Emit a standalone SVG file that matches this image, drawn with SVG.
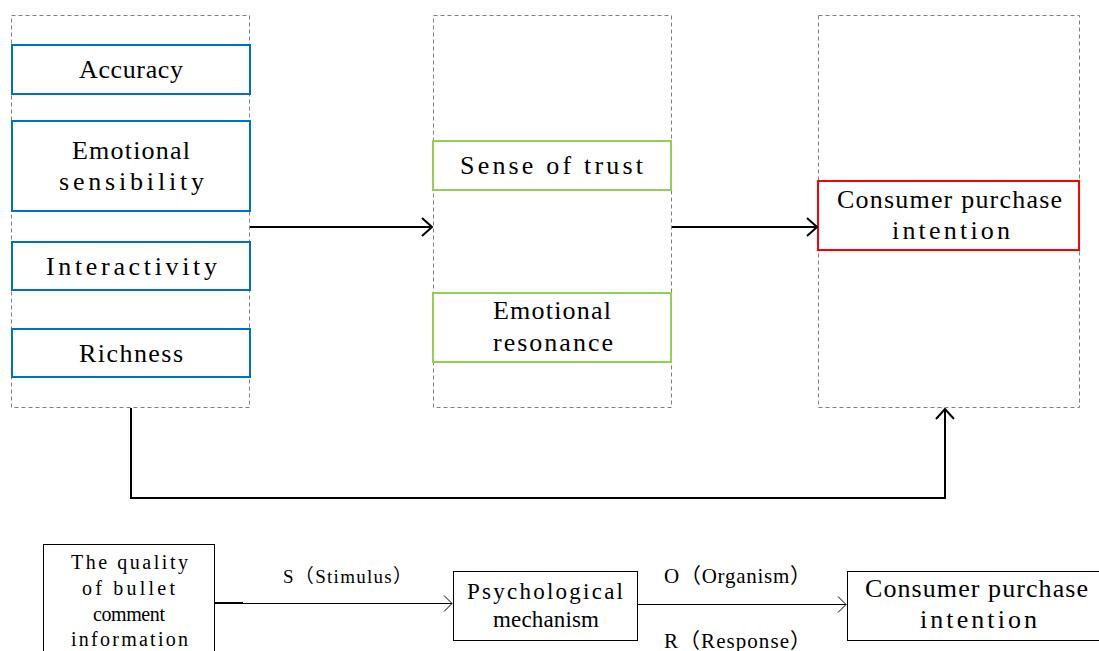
<svg xmlns="http://www.w3.org/2000/svg" width="1099" height="651" viewBox="0 0 1099 651">
<defs>
<marker id="ah" viewBox="0 0 12 20" refX="11" refY="10" markerWidth="12" markerHeight="20" markerUnits="userSpaceOnUse" orient="auto">
<path d="M1,1 L11,10 L1,19" fill="none" stroke="#000" stroke-width="2"/>
</marker>
<marker id="ahs" viewBox="0 0 10 18" refX="9" refY="9" markerWidth="10" markerHeight="18" markerUnits="userSpaceOnUse" orient="auto">
<path d="M1,1 L9,9 L1,17" fill="none" stroke="#000" stroke-width="1"/>
</marker>
<style>
.grp{fill:none;stroke:#808080;stroke-width:1;stroke-dasharray:4 3}
.blue{fill:#fff;stroke:#0070C0;stroke-width:2}
.green{fill:#fff;stroke:#92D050;stroke-width:2}
.red{fill:#fff;stroke:#FF0000;stroke-width:2}
.plain{fill:#fff;stroke:#000;stroke-width:1}
.t{font-family:"Liberation Serif","Noto Sans CJK SC",serif;fill:#000}
.big{font-size:26px}
.mid{font-size:23px}
.sm{font-size:20px}
.conn{fill:none;stroke:#000;stroke-width:2}
.thin{fill:none;stroke:#000;stroke-width:1}
</style>
</defs>
<g id="group-stimulus"><rect class="grp" x="11.5" y="15.5" width="238" height="392"/></g>
<g id="group-organism"><rect class="grp" x="433.5" y="15.5" width="238" height="392"/></g>
<g id="group-response"><rect class="grp" x="818.5" y="15.5" width="261" height="392"/></g>
<g id="accuracy"><rect class="blue" x="12" y="45" width="238" height="49"/>
<text class="t big" x="79" y="78" textLength="104" lengthAdjust="spacing">Accuracy</text></g>
<g id="emotional-sensibility"><rect class="blue" x="12" y="121" width="238" height="90"/>
<text class="t big" x="72" y="159" textLength="118" lengthAdjust="spacing">Emotional</text>
<text class="t big" x="59" y="190" textLength="145" lengthAdjust="spacing">sensibility</text></g>
<g id="interactivity"><rect class="blue" x="12" y="242" width="238" height="48"/>
<text class="t big" x="46" y="275" textLength="171" lengthAdjust="spacing">Interactivity</text></g>
<g id="richness"><rect class="blue" x="12" y="329" width="238" height="48"/>
<text class="t big" x="79" y="362" textLength="104" lengthAdjust="spacing">Richness</text></g>
<g id="sense-of-trust"><rect class="green" x="433" y="141" width="238" height="49"/>
<text class="t big" x="460" y="174" textLength="183" lengthAdjust="spacing">Sense of trust</text></g>
<g id="emotional-resonance"><rect class="green" x="433" y="293" width="238" height="69"/>
<text class="t big" x="493" y="319" textLength="118" lengthAdjust="spacing">Emotional</text>
<text class="t big" x="493" y="351" textLength="120" lengthAdjust="spacing">resonance</text></g>
<g id="consumer-purchase-intention"><rect class="red" x="818" y="181" width="261" height="69"/>
<text class="t big" x="837" y="208" textLength="225" lengthAdjust="spacing">Consumer purchase</text>
<text class="t big" x="892" y="239" textLength="118" lengthAdjust="spacing">intention</text></g>
<g id="bullet-quality"><rect class="plain" x="43.5" y="544.5" width="171" height="120"/>
<text class="t sm" x="71" y="569" textLength="117" lengthAdjust="spacing">The quality</text>
<text class="t sm" x="82" y="595" textLength="93" lengthAdjust="spacing">of bullet</text>
<text class="t sm" x="93" y="621" textLength="72" lengthAdjust="spacing">comment</text>
<text class="t sm" x="71" y="646" textLength="117" lengthAdjust="spacing">information</text></g>
<g id="psychological-mechanism"><rect class="plain" x="453.5" y="571.5" width="184" height="69"/>
<text class="t mid" x="467" y="599" textLength="156" lengthAdjust="spacing">Psychological</text>
<text class="t mid" x="493" y="627" textLength="106" lengthAdjust="spacing">mechanism</text></g>
<g id="consumer-purchase-intention-2"><rect class="plain" x="847.5" y="571.5" width="260" height="69"/>
<text class="t big" x="865" y="597" textLength="223" lengthAdjust="spacing">Consumer purchase</text>
<text class="t big" x="920" y="628" textLength="117" lengthAdjust="spacing">intention</text></g>
<g id="connectors">
<line class="conn" x1="250" y1="227" x2="432" y2="227" marker-end="url(#ah)"/>
<line class="conn" x1="672" y1="227" x2="817" y2="227" marker-end="url(#ah)"/>
<polyline class="conn" points="131,408 131,498 945,498 945,409" marker-end="url(#ah)"/>
<line class="thin" x1="215" y1="603.5" x2="452" y2="603.5" marker-end="url(#ahs)"/>
<line stroke="#000" stroke-width="2" x1="215" y1="603" x2="243" y2="603"/>
<line class="thin" x1="638" y1="604.5" x2="846" y2="604.5" marker-end="url(#ahs)"/>
<text class="t" font-size="19" x="283" y="583" textLength="129" lengthAdjust="spacing">S（Stimulus）</text>
<text class="t" font-size="21" x="664" y="583" textLength="147" lengthAdjust="spacing">O（Organism）</text>
<text class="t" font-size="21" x="664" y="648" textLength="147" lengthAdjust="spacing">R（Response）</text>
</g>
</svg>
